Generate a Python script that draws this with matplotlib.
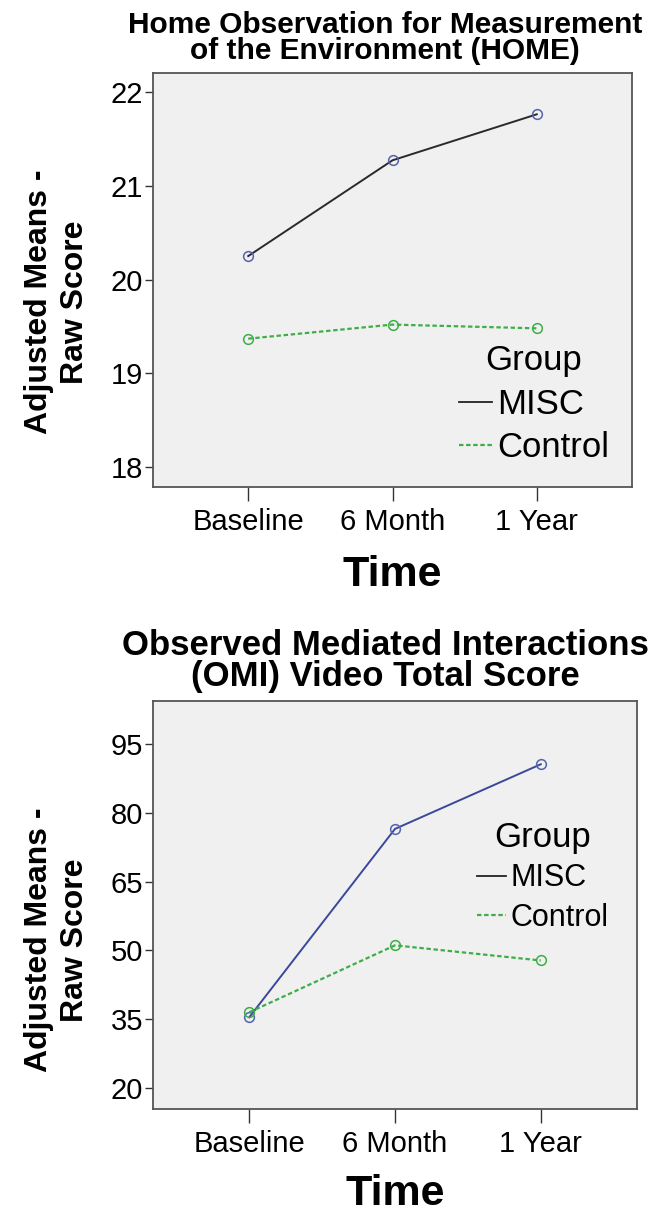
import matplotlib
matplotlib.use('Agg')
import matplotlib.pyplot as plt
from matplotlib.lines import Line2D

plt.rcParams['font.family'] = ['Liberation Sans', 'DejaVu Sans']

# Data
time_labels = ['Baseline', '6 Month', '1 Year']
home_misc = [20.25, 21.27, 21.76]
home_control = [19.37, 19.52, 19.48]
omi_misc = [35.4, 76.5, 90.6]
omi_control = [36.5, 51.1, 47.8]

home_ticks = [18, 19, 20, 21, 22]
omi_ticks = [20, 35, 50, 65, 80, 95]

W, H = 653, 1216
fig = plt.figure(figsize=(W / 100, H / 100), dpi=100)

marker_blue = '#5563ad'
green = '#3dae48'


def px(x, y):
    return x / W, 1 - y / H


def draw_panel(ax, misc, control, yticks, ylim, misc_line_color, legend_pos, leg_size, title_size):
    x = range(len(time_labels))
    ax.set_facecolor('#f0f0f0')
    ax.plot(x, misc, color=misc_line_color, lw=1.4, marker='o', ms=7,
            mfc='none', mec=marker_blue, mew=1.1)
    ax.plot(x, control, color=green, lw=1.6, ls=(0, (2, 1.2)), marker='o', ms=7,
            mfc='none', mec=green, mew=1.1)
    ax.set_xlim(-0.66, 2.66)
    ax.set_ylim(*ylim)
    ax.set_xticks(list(x))
    ax.set_xticklabels(time_labels)
    ax.set_yticks(yticks)
    ax.tick_params(axis='x', length=10, width=1, color='#333333', labelsize=21, pad=5)
    ax.tick_params(axis='y', length=6, width=1, color='#333333', labelsize=21, pad=1)
    for s in ax.spines.values():
        s.set_color('#555555')
        s.set_linewidth(1.3)
    handles = [Line2D([], [], color='#222222', lw=1.3),
               Line2D([], [], color=green, lw=1.6, ls=(0, (2, 1.2)))]
    ax.legend(handles, ['MISC', 'Control'], title='Group', loc='center',
              bbox_to_anchor=legend_pos, frameon=False, fontsize=leg_size,
              title_fontsize=title_size, handlelength=0.95, handletextpad=0.15,
              labelspacing=0.3, borderpad=0)


ax1 = fig.add_axes([153 / W, 1 - 487 / H, (632 - 153) / W, (487 - 73) / H])
draw_panel(ax1, home_misc, home_control, home_ticks, (17.79, 22.2), '#2a2a2a',
           (0.795, 0.20), 25, 25)
ax1.text(0.5, -88 / 414, 'Time', transform=ax1.transAxes, ha='center', va='center',
         fontsize=31, fontweight='bold')

ax2 = fig.add_axes([153 / W, 1 - 1109 / H, (637 - 153) / W, (1109 - 701) / H])
draw_panel(ax2, omi_misc, omi_control, omi_ticks, (15.4, 104.4), '#3a4899',
           (0.806, 0.569), 22, 25)
ax2.text(0.5, -85 / 408, 'Time', transform=ax2.transAxes, ha='center', va='center',
         fontsize=31, fontweight='bold')

# titles
fig.text(*px(385, 38), 'Home Observation for Measurement\nof the Environment (HOME)',
         ha='center', va='center', fontsize=21.5, fontweight='bold', linespacing=0.92)
fig.text(*px(385, 661), 'Observed Mediated Interactions\n(OMI) Video Total Score',
         ha='center', va='center', fontsize=25, fontweight='bold', linespacing=0.92)

# y labels
fig.text(*px(57, 302), 'Adjusted Means -\nRaw Score', rotation=90, ha='center',
         va='center', fontsize=23, fontweight='bold', linespacing=1.22)
fig.text(*px(57, 940), 'Adjusted Means -\nRaw Score', rotation=90, ha='center',
         va='center', fontsize=23, fontweight='bold', linespacing=1.22)

fig.savefig('out.png', dpi=100)
